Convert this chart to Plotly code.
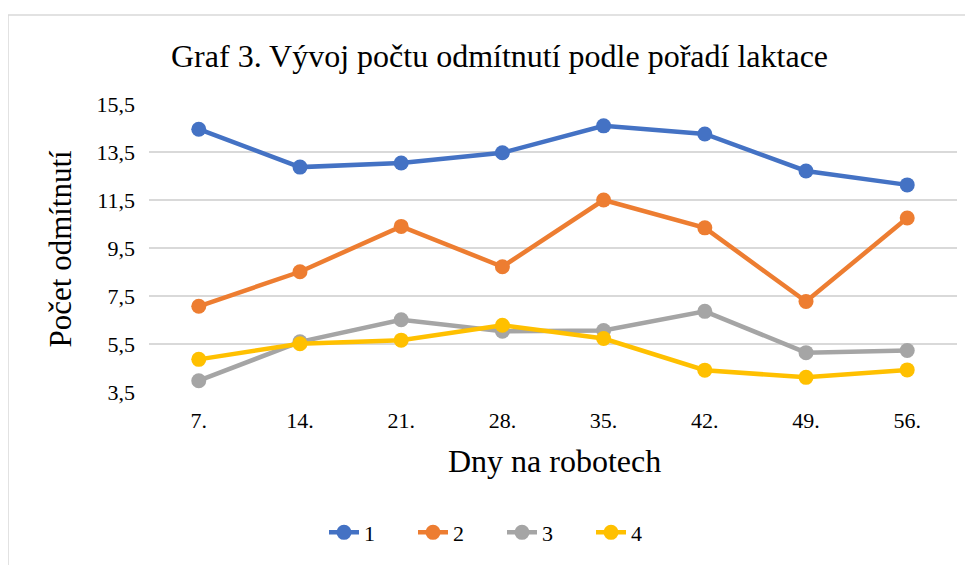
import plotly.graph_objects as go

days = ["7.", "14.", "21.", "28.", "35.", "42.", "49.", "56."]
series_names = ["1", "2", "3", "4"]
s1 = [14.45, 12.87, 13.04, 13.47, 14.59, 14.25, 12.71, 12.13]
s2 = [7.07, 8.51, 10.40, 8.72, 11.50, 10.34, 7.27, 10.75]
s3 = [3.97, 5.59, 6.51, 6.03, 6.06, 6.86, 5.14, 5.23]
s4 = [4.86, 5.51, 5.66, 6.28, 5.73, 4.41, 4.11, 4.42]
y_ticks = [3.5, 5.5, 7.5, 9.5, 11.5, 13.5, 15.5]

colors = ["#4472C4", "#ED7D31", "#A5A5A5", "#FFC000"]
FONT = "Liberation Serif, Times New Roman, serif"

fig = go.Figure()
for name, vals, c in zip(series_names, [s1, s2, s3, s4], colors):
    fig.add_trace(go.Scatter(
        x=days, y=vals, name=name, mode="lines+markers",
        line=dict(color=c, width=4.5),
        marker=dict(color=c, size=15),
    ))

# page body has an 8px margin; work in reference coordinates minus 8
OFF = 8
FW, FH = 973 - OFF, 565 - OFF
L, R, T, B = 149 - OFF, 957 - OFF, 104 - OFF, 395 - OFF
W, H = R - L, B - T

def px(x):
    return (x - OFF - L) / W

def py(y):
    return (B - (y - OFF)) / H

fig.update_layout(
    width=FW, height=FH,
    margin=dict(l=L, r=FW - R, t=T, b=FH - B),
    paper_bgcolor="white", plot_bgcolor="white",
    separators=", ",
    font=dict(family=FONT, color="#000000", size=22),
    showlegend=True,
    legend=dict(orientation="h", x=px(502), y=py(537), xanchor="center", yanchor="middle",
                font=dict(size=22, family=FONT), entrywidth=44, entrywidthmode="pixels",
                bgcolor="rgba(0,0,0,0)"),
    xaxis=dict(type="category", showgrid=False, showline=False, ticks="",
               tickfont=dict(size=22, family=FONT), zeroline=False, ticklabelstandoff=13),
    yaxis=dict(range=[3.5, 15.5], tickvals=y_ticks, tickformat=".1f",
               showgrid=True, gridcolor="#D9D9D9", gridwidth=1.5, zeroline=False,
               showline=False, ticks="", tickfont=dict(size=22, family=FONT),
               ticklabelstandoff=13),
    annotations=[
        dict(text="Graf 3. Vývoj počtu odmítnutí podle pořadí laktace", xref="paper", yref="paper",
             x=px(499), y=py(55), xanchor="center", yanchor="middle", showarrow=False,
             font=dict(size=32, family=FONT)),
        dict(text="Počet odmítnutí", xref="paper", yref="paper", textangle=-90,
             x=px(60), y=py(250), xanchor="center", yanchor="middle", showarrow=False,
             font=dict(size=31, family=FONT)),
        dict(text="Dny na robotech", xref="paper", yref="paper",
             x=px(554), y=py(465), xanchor="center", yanchor="middle", showarrow=False,
             font=dict(size=32, family=FONT)),
    ],
    shapes=[dict(type="rect", xref="paper", yref="paper",
                 x0=px(8), x1=px(995), y0=py(600), y1=py(14),
                 line=dict(color="#D9D9D9", width=1.5), fillcolor="rgba(0,0,0,0)", layer="below")],
)

fig.write_html("out.html")
